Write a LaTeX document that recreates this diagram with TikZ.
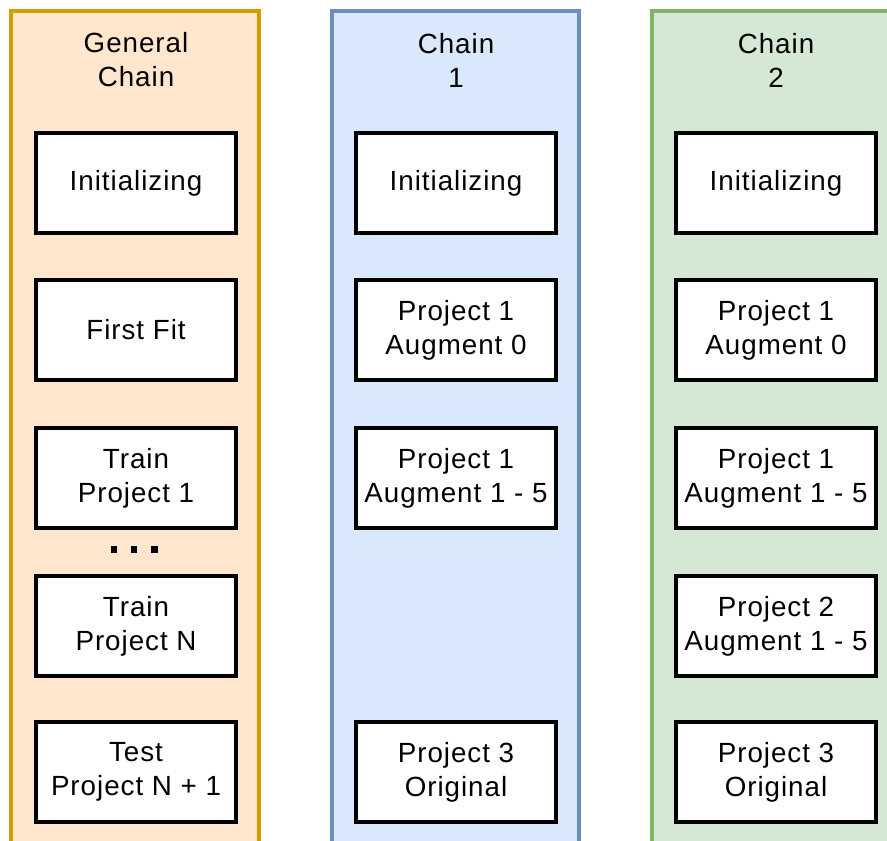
\documentclass[tikz,border=0pt]{standalone}
\usepackage{fontspec}
\setmainfont{Liberation Sans}[LetterSpace=3.5]
\definecolor{orangefill}{HTML}{FFE6CC}
\definecolor{orangeline}{HTML}{D79B00}
\definecolor{bluefill}{HTML}{DAE8FC}
\definecolor{blueline}{HTML}{6C8EBF}
\definecolor{greenfill}{HTML}{D5E8D4}
\definecolor{greenline}{HTML}{82B366}
\begin{document}
\begin{tikzpicture}[
  x=0.02cm, y=-0.02cm,
  lane/.style={line width=2.2pt},
  stage/.style={draw, line width=2.5pt, fill=white, minimum width=4cm, minimum height=2cm, align=center, font=\fontsize{15.8}{19.3}\selectfont},
  title/.style={align=center, font=\fontsize{15.8}{19.3}\selectfont},
  dot/.style={fill=black, inner sep=0pt, minimum size=0.14cm}]

\useasboundingbox (0,0) rectangle (887,840);

% Colunas
\begin{scope}
\clip (0,0) rectangle (887,840);
\draw[lane, fill=orangefill, draw=orangeline] (11,11) rectangle (259,900);
\draw[lane, fill=bluefill, draw=blueline] (332,11) rectangle (579,900);
\draw[lane, fill=greenfill, draw=greenline] (652,11) rectangle (902,900);
\end{scope}

% Titulos
\node[title] (tg) at (136,60) {General\\Chain};
\node[title] (t1) at (456,60) {Chain\\1};
\node[title] (t2) at (776,60) {Chain\\2};

% General Chain
\node[stage] (g1) at (136,183) {Initializing};
\node[stage] (g2) at (136,330) {First Fit};
\node[stage] (g3) at (136,478) {Train\\Project 1};
\node[stage] (g4) at (136,626) {Train\\Project N};
\node[stage] (g5) at (136,772) {Test\\Project N + 1};
\node[dot] (d1) at (114,549) {};
\node[dot] (d2) at (134,549) {};
\node[dot] (d3) at (154,549) {};

% Chain 1
\node[stage] (a1) at (456,183) {Initializing};
\node[stage] (a2) at (456,330) {Project 1\\Augment 0};
\node[stage] (a3) at (456,478) {Project 1\\Augment 1 - 5};
\node[stage] (a5) at (456,772) {Project 3\\Original};

% Chain 2
\node[stage] (b1) at (776,183) {Initializing};
\node[stage] (b2) at (776,330) {Project 1\\Augment 0};
\node[stage] (b3) at (776,478) {Project 1\\Augment 1 - 5};
\node[stage] (b4) at (776,626) {Project 2\\Augment 1 - 5};
\node[stage] (b5) at (776,772) {Project 3\\Original};

\end{tikzpicture}
\end{document}
